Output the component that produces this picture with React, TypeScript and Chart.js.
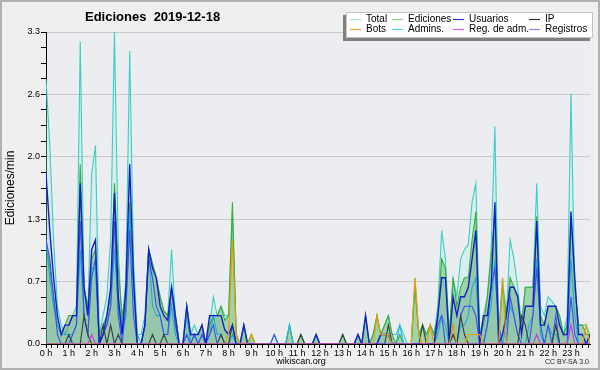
import React, { useEffect, useRef } from "react";
import { Chart, registerables } from "chart.js";

Chart.register(...registerables);

// 10-minute bins, 0:00 .. 23:50 (144 points), values in edits/min
const TOTAL = [
  2.8, 2.1, 1.1, 0.4, 0.2, 0.1,
  0.2, 0.3, 0.4, 3.2, 0.6, 0.35,
  1.8, 2.1, 0.1, 0.3, 0.5, 1.1,
  3.3, 1.0, 0.2, 0.7, 3.1, 0.9,
  0.1, 0.1, 0.3, 1.0, 0.85, 0.7,
  0.5, 0.35, 0.3, 1.0, 0.3, 0,
  0, 0.4, 0.1, 0.2, 0.1, 0.2,
  0, 0.2, 0.5, 0.3, 0.4, 0.3,
  0.3, 1.4, 0.1, 0, 0.2, 0,
  0.1, 0, 0, 0, 0, 0,
  0.1, 0, 0, 0, 0.2, 0,
  0, 0.1, 0, 0, 0, 0.1,
  0, 0, 0, 0, 0, 0,
  0.1, 0, 0, 0, 0.1, 0,
  0.3, 0, 0.1, 0.3, 0.1, 0.2,
  0.3, 0.1, 0.1, 0.2, 0.1, 0,
  0, 0.7, 0.1, 0.2, 0.1, 0.2,
  0.1, 0.4, 1.2, 0.9, 0.1, 0.7,
  0.5, 0.9, 1.0, 1.05, 1.5, 1.7,
  0.1, 0.3, 0.5, 1.0, 2.3, 0.1,
  0.7, 0.3, 1.1, 0.9, 0.6, 0.2,
  0.6, 0.6, 0.6, 1.7, 0.4, 0.3,
  0.5, 0.45, 0.4, 0.3, 0.1, 0.3,
  2.65, 0.6, 0.2, 0.2, 0.2, 0.1,
];

const EDICIONES = [
  1.1, 0.8, 0.5, 0.2, 0.1, 0.2,
  0.3, 0.3, 0.3, 1.9, 0.6, 0.4,
  0.9, 1.0, 0.1, 0.2, 0.3, 0.5,
  1.7, 0.8, 0.3, 0.5, 1.5, 0.6,
  0, 0, 0.2, 1.0, 0.85, 0.7,
  0.5, 0.35, 0.3, 0.6, 0.3, 0,
  0, 0.4, 0.1, 0.1, 0.1, 0.2,
  0, 0.2, 0.3, 0.3, 0.4, 0.25,
  0.3, 1.5, 0.1, 0, 0.2, 0,
  0.1, 0, 0, 0, 0, 0,
  0, 0, 0, 0, 0.2, 0,
  0, 0.1, 0, 0, 0, 0.1,
  0, 0, 0, 0, 0, 0,
  0.1, 0, 0, 0, 0.1, 0,
  0.3, 0, 0.1, 0.3, 0.1, 0.2,
  0.3, 0.1, 0, 0.1, 0, 0,
  0, 0.6, 0.1, 0.2, 0.1, 0.2,
  0.1, 0.3, 0.9, 0.8, 0.1, 0.7,
  0.4, 0.6, 0.7, 0.7, 1.1, 1.4,
  0.1, 0.2, 0.5, 0.9, 1.4, 0.1,
  0.6, 0.3, 0.7, 0.6, 0.5, 0.2,
  0.6, 0.6, 0.6, 1.35, 0.3, 0.2,
  0.4, 0.4, 0.4, 0.3, 0.1, 0.2,
  1.35, 0.6, 0.2, 0.2, 0.1, 0.1,
];

const USUARIOS = [
  1.8, 1.2, 0.7, 0.3, 0.1, 0.2,
  0.2, 0.3, 0.3, 1.7, 0.6, 0.3,
  1.0, 1.1, 0, 0.1, 0.3, 0.6,
  1.6, 0.5, 0.1, 0.6, 1.9, 0.7,
  0, 0, 0.2, 1.0, 0.8, 0.7,
  0.4, 0.3, 0.25, 0.6, 0.3, 0,
  0, 0.4, 0.1, 0.1, 0.1, 0.2,
  0, 0.3, 0.3, 0.3, 0.3, 0.15,
  0.1, 0.2, 0, 0, 0.2, 0,
  0, 0, 0, 0, 0, 0,
  0, 0, 0, 0, 0, 0,
  0, 0, 0, 0, 0, 0.1,
  0, 0, 0, 0, 0, 0,
  0, 0, 0, 0, 0.1, 0,
  0.3, 0, 0, 0, 0.1, 0.1,
  0.1, 0, 0, 0, 0, 0,
  0, 0, 0, 0, 0, 0,
  0, 0.3, 0.7, 0.7, 0, 0.5,
  0.3, 0.5, 0.5, 0.6, 0.9, 1.2,
  0, 0.3, 0.3, 0.6, 1.5, 0,
  0.1, 0.3, 0.6, 0.6, 0.5, 0.1,
  0.4, 0.4, 0.4, 1.3, 0.2, 0.2,
  0.4, 0.4, 0.4, 0.2, 0.1, 0.1,
  1.4, 0.7, 0.1, 0.1, 0, 0.1,
];

const IP = [
  0, 0, 0, 0, 0, 0,
  0.1, 0, 0, 0, 0.3, 0.1,
  0, 0, 0, 0.2, 0, 0.2,
  0, 0.1, 0, 0, 0, 0,
  0, 0, 0, 0, 0.1, 0,
  0, 0.1, 0, 0, 0, 0,
  0, 0, 0, 0, 0, 0,
  0, 0, 0, 0, 0.1, 0,
  0, 0.2, 0, 0, 0, 0,
  0, 0, 0, 0, 0, 0,
  0, 0, 0, 0, 0, 0,
  0, 0.1, 0, 0, 0, 0,
  0, 0, 0, 0, 0, 0,
  0.1, 0, 0, 0, 0, 0,
  0, 0, 0, 0, 0, 0,
  0.2, 0, 0, 0, 0, 0,
  0, 0, 0, 0.2, 0, 0,
  0, 0, 0, 0, 0, 0.1,
  0, 0.3, 0.1, 0, 0, 0,
  0, 0, 0, 0, 0, 0,
  0, 0, 0, 0, 0, 0.3,
  0.2, 0, 0, 0, 0, 0,
  0, 0, 0.2, 0, 0, 0,
  0, 0, 0, 0, 0, 0,
];

const BOTS = [
  0, 0, 0, 0, 0, 0,
  0, 0, 0, 0, 0, 0,
  0, 0, 0, 0, 0, 0,
  0, 0, 0, 0, 0, 0,
  0, 0, 0, 0, 0, 0,
  0, 0, 0, 0, 0, 0,
  0, 0, 0, 0, 0, 0,
  0, 0, 0, 0, 0, 0,
  0.1, 1.1, 0.1, 0, 0, 0,
  0.1, 0, 0, 0, 0, 0,
  0, 0, 0, 0, 0, 0,
  0, 0, 0, 0, 0, 0,
  0, 0, 0, 0, 0, 0,
  0, 0, 0, 0, 0, 0,
  0, 0, 0, 0.3, 0.1, 0.1,
  0.1, 0, 0, 0, 0, 0,
  0, 0.7, 0.1, 0, 0, 0.2,
  0, 0, 0, 0, 0, 0.2,
  0, 0, 0, 0.1, 0.1, 0.1,
  0.1, 0, 0, 0, 0, 0,
  0.7, 0, 0, 0, 0, 0,
  0, 0, 0, 0, 0, 0,
  0, 0, 0, 0, 0, 0,
  0, 0, 0, 0, 0.2, 0,
];

const ADMINS = [
  1.1, 0.7, 0.4, 0.2, 0.1, 0.1,
  0.1, 0.1, 0.2, 1.0, 0.3, 0.1,
  0.8, 0.8, 0, 0.1, 0.2, 0.4,
  1.0, 0.4, 0.1, 0.3, 1.4, 0.5,
  0.1, 0, 0.2, 1.0, 0.4, 0.3,
  0.3, 0.1, 0.1, 0.4, 0.1, 0,
  0, 0.3, 0, 0.1, 0, 0.1,
  0, 0.1, 0.3, 0.1, 0.1, 0,
  0, 0.1, 0, 0, 0, 0,
  0, 0, 0, 0, 0, 0,
  0, 0, 0, 0, 0.2, 0,
  0, 0, 0, 0, 0, 0,
  0, 0, 0, 0, 0, 0,
  0, 0, 0, 0, 0, 0,
  0, 0, 0, 0, 0, 0,
  0, 0, 0, 0.2, 0, 0,
  0, 0, 0, 0, 0, 0,
  0, 0.1, 0.3, 0.2, 0, 0.1,
  0, 0.2, 0.2, 0.3, 0.6, 0.7,
  0, 0, 0.2, 0.4, 0.9, 0,
  0, 0.2, 0.4, 0.3, 0.1, 0,
  0, 0.2, 0.3, 0.9, 0.1, 0,
  0.2, 0.1, 0.1, 0, 0, 0,
  0.9, 0.3, 0, 0, 0, 0,
];

const REG_ADM = [
  0, 0, 0, 0, 0, 0,
  0, 0, 0, 0, 0, 0,
  0.1, 0, 0, 0, 0, 0,
  0, 0, 0, 0, 0, 0,
  0, 0, 0, 0, 0, 0,
  0, 0, 0, 0, 0, 0,
  0, 0, 0, 0, 0, 0,
  0, 0, 0, 0, 0, 0,
  0, 0, 0, 0, 0, 0,
  0, 0, 0, 0, 0, 0,
  0, 0, 0, 0, 0, 0,
  0, 0, 0, 0, 0, 0,
  0, 0, 0, 0, 0, 0,
  0, 0, 0, 0, 0, 0,
  0, 0, 0, 0, 0, 0,
  0, 0, 0, 0, 0, 0,
  0, 0, 0, 0, 0, 0,
  0, 0, 0, 0, 0, 0,
  0, 0, 0, 0, 0, 0,
  0, 0, 0, 0, 0, 0,
  0, 0, 0, 0, 0, 0,
  0, 0, 0, 0.1, 0, 0,
  0, 0, 0, 0, 0, 0,
  0.2, 0, 0, 0, 0, 0,
];

const REGISTROS = [
  1.1, 0.9, 0.5, 0.1, 0, 0,
  0, 0.1, 0.2, 1.3, 0.3, 0.1,
  0.7, 0.9, 0, 0.1, 0.2, 0.4,
  1.3, 0.3, 0, 0.4, 1.2, 0.3,
  0, 0, 0.2, 0.9, 0.7, 0.4,
  0.3, 0.1, 0.1, 0.6, 0.2, 0,
  0, 0.1, 0, 0.1, 0, 0.1,
  0, 0.1, 0.2, 0, 0, 0,
  0, 0, 0, 0, 0, 0,
  0, 0, 0, 0, 0, 0,
  0.1, 0, 0, 0, 0, 0,
  0, 0, 0, 0, 0, 0,
  0, 0, 0, 0, 0, 0,
  0, 0, 0, 0, 0, 0,
  0, 0, 0, 0, 0.1, 0.1,
  0.1, 0, 0, 0, 0, 0,
  0, 0, 0, 0, 0, 0,
  0, 0.2, 0.3, 0, 0, 0,
  0, 0.3, 0.4, 0.4, 0.4, 0.3,
  0, 0, 0.2, 0.6, 0.8, 0.2,
  0, 0, 0.5, 0.3, 0.1, 0,
  0, 0, 0.3, 0.8, 0.2, 0,
  0.2, 0, 0.3, 0, 0, 0,
  0.5, 0.1, 0, 0, 0, 0,
];

const TITLE = "Ediciones  2019-12-18";
const Y_TITLE = "Ediciones/min";
const Y_MAX = 3.3;
const Y_LABEL_EVERY = 4; // labelled ticks: 0.0 0.7 1.3 2.0 2.6 3.3
const HOUR_LABELS = Array.from({ length: 24 }, (_, h) => `${h} h`);
const LEGEND = [
  ["Total", "#a6e6de"], ["Ediciones", "#86d086"], ["Usuarios", "#3434d0"], ["IP", "#333333"],
  ["Bots", "#f4a33c"], ["Admins.", "#52cfe0"], ["Reg. de adm.", "#d356e6"], ["Registros", "#8484f2"],
];

const FONT = "'Liberation Sans', Arial, sans-serif";

export default function App() {
  const ref = useRef<HTMLCanvasElement>(null);
  useEffect(() => {
    document.body.style.margin = "0";
    const pts = (a: number[]) => a.map((v, i) => ({ x: i, y: v }));
    const line = (label: string, data: number[], color: string, order: number, extra: any = {}) => ({
      label, data: pts(data), borderColor: color, borderWidth: 1.1, pointRadius: 0,
      tension: 0, fill: false, order, ...extra,
    });

    const bg = {
      id: "bg",
      beforeDraw(c: any) {
        const g = c.ctx; const a = c.chartArea;
        g.save();
        g.fillStyle = "#efefef"; g.fillRect(0, 0, c.width, c.height);
        g.fillStyle = "#ecedf0"; g.fillRect(a.left, a.top, a.right - a.left, a.bottom - a.top);
        g.strokeStyle = "#b0b0b0"; g.lineWidth = 2; g.strokeRect(1, 1, c.width - 2, c.height - 2);
        g.restore();
      },
    };

    const texts = {
      id: "texts",
      afterDraw(c: any) {
        const g = c.ctx; const a = c.chartArea;
        g.save();
        g.fillStyle = "#000";
        g.textBaseline = "middle";
        g.font = `bold 13px ${FONT}`;
        g.textAlign = "left";
        g.fillText(TITLE, 85, 17);
        // y title
        g.save();
        g.translate(11, (a.top + a.bottom) / 2);
        g.rotate(-Math.PI / 2);
        g.textAlign = "center";
        g.font = `12px ${FONT}`;
        g.fillText(Y_TITLE, 0, 0);
        g.restore();
        // bottom texts
        g.font = `9px ${FONT}`;
        g.textAlign = "center";
        g.fillText("wikiscan.org", 301, 362);
        g.font = `7px ${FONT}`;
        g.textAlign = "right";
        g.fillStyle = "#222";
        g.fillText("CC BY-SA 3.0", 589, 362);
        // legend
        g.fillStyle = "#808080"; g.fillRect(343, 15, 247, 26);
        g.fillStyle = "#ffffff"; g.fillRect(346, 12, 247, 26);
        g.strokeStyle = "#c4c4c4"; g.lineWidth = 1; g.strokeRect(346.5, 12.5, 246, 25);
        const cols = [366, 408, 469, 545];
        g.font = `10px ${FONT}`;
        g.textAlign = "left";
        LEGEND.forEach(([name, col], k) => {
          const x = cols[k % 4]; const y = k < 4 ? 19.5 : 29.5;
          g.strokeStyle = col; g.lineWidth = 1.2;
          g.beginPath(); g.moveTo(x - 16, y); g.lineTo(x - 5, y); g.stroke();
          g.fillStyle = "#000";
          g.fillText(name, x, y);
        });
        g.restore();
      },
    };

    const chart = new Chart(ref.current!, {
      type: "line",
      data: {
        datasets: [
          line("Total", TOTAL, "#3ccfc2", 8, { fill: "origin", backgroundColor: "rgba(175,238,228,0.32)" }),
          line("Ediciones", EDICIONES, "#3aae3a", 7, { fill: "origin", backgroundColor: "rgba(80,175,80,0.42)" }),
          line("Admins.", ADMINS, "#1fb4dc", 6),
          line("Registros", REGISTROS, "#3f52f2", 5),
          line("IP", IP, "#3c3c3c", 4),
          line("Usuarios", USUARIOS, "#1420c4", 3, { borderWidth: 1.4, fill: "origin", backgroundColor: "rgba(40,70,170,0.08)" }),
          line("Bots", BOTS, "#f29a00", 2),
          line("Reg. de adm.", REG_ADM, "#c43ee0", 1),
        ] as any,
      },
      options: {
        responsive: false,
        animation: false,
        layout: { padding: { left: 0, right: 10, top: 32, bottom: 0 } },
        plugins: { legend: { display: false }, title: { display: false }, tooltip: { enabled: false } },
        scales: {
          x: {
            type: "linear", min: 0, max: 143,
            afterFit: (s: any) => { s.height = 26; },
            afterBuildTicks: (s: any) => {
              const t = [];
              for (let k = 0; k <= 95; k++) t.push({ value: k * 1.5 });
              s.ticks = t;
            },
            ticks: {
              autoSkip: false, maxRotation: 0, minRotation: 0, padding: 0,
              color: "#000", font: { family: FONT, size: 9 },
              callback: (v: any) => (v % 6 === 0 ? HOUR_LABELS[v / 6] : ""),
            },
            grid: { drawOnChartArea: false, tickLength: 4, color: "#000", tickColor: "#000" },
            border: { color: "#000", width: 1 },
          },
          y: {
            min: 0, max: Y_MAX,
            afterFit: (s: any) => { s.width = 46; },
            afterBuildTicks: (s: any) => {
              const t = [];
              for (let k = 0; k <= 20; k++) t.push({ value: (k * 165) / 1000 });
              s.ticks = t;
            },
            ticks: {
              autoSkip: false, padding: 1, color: "#000", font: { family: FONT, size: 9 },
              callback: (v: any, i: number) => (i % Y_LABEL_EVERY === 0 ? Number(v).toFixed(1) : ""),
            },
            grid: {
              tickLength: 5, tickColor: "#000",
              color: (c: any) => (c.index % Y_LABEL_EVERY === 0 && c.index > 0 ? "#c9c9c9" : "rgba(0,0,0,0)"),
            },
            border: { color: "#000", width: 1 },
          },
        },
      },
      plugins: [bg, texts],
    });
    return () => chart.destroy();
  }, []);
  return <canvas ref={ref} width={600} height={370} style={{ display: "block" }} />;
}
